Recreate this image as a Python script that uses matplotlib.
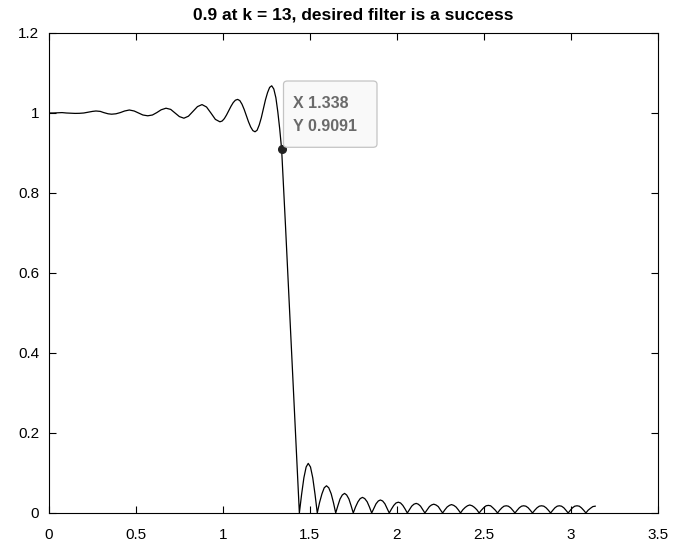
import numpy as np
import matplotlib
matplotlib.use("Agg")
from matplotlib import pyplot as plt
from matplotlib.patches import FancyBboxPatch

plt.rcParams['font.family'] = ['Liberation Sans', 'DejaVu Sans']

# passband + transition
pass_w = [0.000, 0.025, 0.050, 0.075, 0.100, 0.125, 0.150, 0.175, 0.200, 0.225,
          0.250, 0.270, 0.295, 0.315, 0.340, 0.360, 0.385, 0.410, 0.435, 0.462,
          0.490, 0.515, 0.540, 0.568, 0.595, 0.620, 0.645, 0.673, 0.700, 0.725,
          0.750, 0.776, 0.802, 0.828, 0.854, 0.880, 0.906, 0.932, 0.957, 0.983,
          0.996, 1.0085, 1.021, 1.034, 1.047, 1.0595, 1.072, 1.085,
          1.0975, 1.110, 1.1225, 1.135, 1.1475, 1.160, 1.1725, 1.185,
          1.197, 1.209, 1.221, 1.233, 1.245, 1.257, 1.269, 1.281,
          1.293, 1.305, 1.316, 1.327, 1.338, 1.360, 1.390, 1.415, 1.440]
pass_h = [1.000, 1.000, 1.0005, 1.001, 1.000, 0.9995, 0.999, 0.9992, 1.000, 1.002,
          1.004, 1.005, 1.004, 1.001, 0.998, 0.997, 0.998, 1.001, 1.005, 1.0075,
          1.005, 1.000, 0.995, 0.993, 0.995, 1.001, 1.008, 1.012, 1.009, 1.000,
          0.991, 0.987, 0.992, 1.004, 1.016, 1.021, 1.015, 0.9995, 0.984, 0.978,
          0.980, 0.986, 0.995, 1.006, 1.017, 1.026, 1.032, 1.034,
          1.031, 1.022, 1.009, 0.9935, 0.978, 0.965, 0.956, 0.953,
          0.957, 0.970, 0.988, 1.0105, 1.033, 1.051, 1.064, 1.068,
          1.060, 1.038, 1.003, 0.960, 0.9091, 0.720, 0.450, 0.220, 0.000]

# stopband lobes (|H|), one row per lobe
stop_w = [1.453, 1.466, 1.479, 1.491, 1.504, 1.517, 1.530, 1.543,
          1.556, 1.570, 1.583, 1.596, 1.609, 1.623, 1.636, 1.649,
          1.662, 1.674, 1.687, 1.700, 1.712, 1.725, 1.737, 1.750,
          1.763, 1.777, 1.790, 1.803, 1.816, 1.830, 1.843, 1.856,
          1.869, 1.881, 1.894, 1.906, 1.919, 1.932, 1.944, 1.957,
          1.970, 1.983, 1.996, 2.009, 2.022, 2.035, 2.048, 2.061,
          2.074, 2.086, 2.099, 2.112, 2.124, 2.137, 2.149, 2.162,
          2.175, 2.188, 2.200, 2.213, 2.226, 2.239, 2.251, 2.264,
          2.277, 2.290, 2.303, 2.315, 2.328, 2.341, 2.354, 2.367,
          2.380, 2.394, 2.407, 2.420, 2.434, 2.447, 2.461, 2.474,
          2.487, 2.500, 2.514, 2.527, 2.540, 2.553, 2.567, 2.580,
          2.592, 2.605, 2.617, 2.630, 2.642, 2.655, 2.667, 2.680,
          2.693, 2.705, 2.718, 2.730, 2.743, 2.756, 2.768, 2.781,
          2.794, 2.807, 2.820, 2.833, 2.846, 2.859, 2.872, 2.885,
          2.898, 2.910, 2.923, 2.935, 2.948, 2.961, 2.973, 2.986,
          2.999, 3.011, 3.024, 3.037, 3.050, 3.062, 3.075, 3.088,
          3.101, 3.115, 3.128, 3.1416]
stop_h = [0.047, 0.088, 0.115, 0.124, 0.115, 0.088, 0.047, 0.000,
          0.026, 0.048, 0.063, 0.068, 0.063, 0.048, 0.026, 0.000,
          0.019, 0.035, 0.045, 0.049, 0.045, 0.035, 0.019, 0.000,
          0.015, 0.028, 0.036, 0.039, 0.036, 0.028, 0.015, 0.000,
          0.012, 0.023, 0.030, 0.0325, 0.030, 0.023, 0.012, 0.000,
          0.010, 0.019, 0.025, 0.027, 0.025, 0.019, 0.010, 0.000,
          0.009, 0.017, 0.022, 0.024, 0.022, 0.017, 0.009, 0.000,
          0.008, 0.016, 0.020, 0.022, 0.020, 0.016, 0.008, 0.000,
          0.008, 0.015, 0.019, 0.021, 0.019, 0.015, 0.008, 0.000,
          0.008, 0.014, 0.018, 0.020, 0.018, 0.014, 0.008, 0.000,
          0.007, 0.013, 0.018, 0.019, 0.018, 0.013, 0.007, 0.000,
          0.007, 0.013, 0.017, 0.018, 0.017, 0.013, 0.007, 0.000,
          0.007, 0.013, 0.017, 0.018, 0.017, 0.013, 0.007, 0.000,
          0.007, 0.013, 0.017, 0.018, 0.017, 0.013, 0.007, 0.000,
          0.007, 0.013, 0.017, 0.018, 0.017, 0.013, 0.007, 0.000,
          0.007, 0.013, 0.017, 0.018, 0.017, 0.013, 0.007, 0.000,
          0.007, 0.012, 0.016, 0.017]

tip_x, tip_y = 1.338, 0.9091
x_ticks = [0, 0.5, 1, 1.5, 2, 2.5, 3, 3.5]
y_ticks = [0, 0.2, 0.4, 0.6, 0.8, 1, 1.2]

w = np.array(pass_w + stop_w)
h = np.array(pass_h + stop_h)

fig = plt.figure(figsize=(6.75, 5.5), dpi=100)
ax = fig.add_axes([0.0726, 0.0673, 0.9015, 0.8727])
ax.plot(w, h, color='black', lw=0.9)
ax.set_xlim(0, 3.5)
ax.set_ylim(0, 1.2)
ax.set_xticks(x_ticks)
ax.set_xticklabels([f"{t:g}" for t in x_ticks])
ax.set_yticks(y_ticks)
ax.set_yticklabels([f"{t:g}" for t in y_ticks])
ax.tick_params(direction='in', length=5, width=0.8, top=True, right=True,
               labelsize=11, colors='black')
ax.tick_params(axis='x', pad=11)
ax.tick_params(axis='y', pad=7)
for s in ax.spines.values():
    s.set_linewidth(0.8)
ax.set_title("0.9 at k = 13, desired filter is a success", fontsize=12.5,
             fontweight='bold', pad=10)

# data tip
ax.plot([tip_x], [tip_y], 'o', color='#222222', ms=5.5, zorder=5)
box = FancyBboxPatch((283.5 / 675, (550 - 147.3) / 550), 93.5 / 675, 66.3 / 550,
                     boxstyle="round,pad=0,rounding_size=0.006",
                     transform=fig.transFigure, facecolor='#f9f9f9',
                     edgecolor='#c4c4c4', lw=0.9, zorder=6)
fig.patches.append(box)
fig.text(293 / 675, (550 - 103) / 550, f"X {tip_x:.3f}", fontsize=11.5,
         color='#6a6a6a', fontweight='bold', va='center', zorder=7)
fig.text(293 / 675, (550 - 126.7) / 550, f"Y {tip_y:.4f}", fontsize=11.5,
         color='#6a6a6a', fontweight='bold', va='center', zorder=7)

fig.savefig("out.png", dpi=100)
